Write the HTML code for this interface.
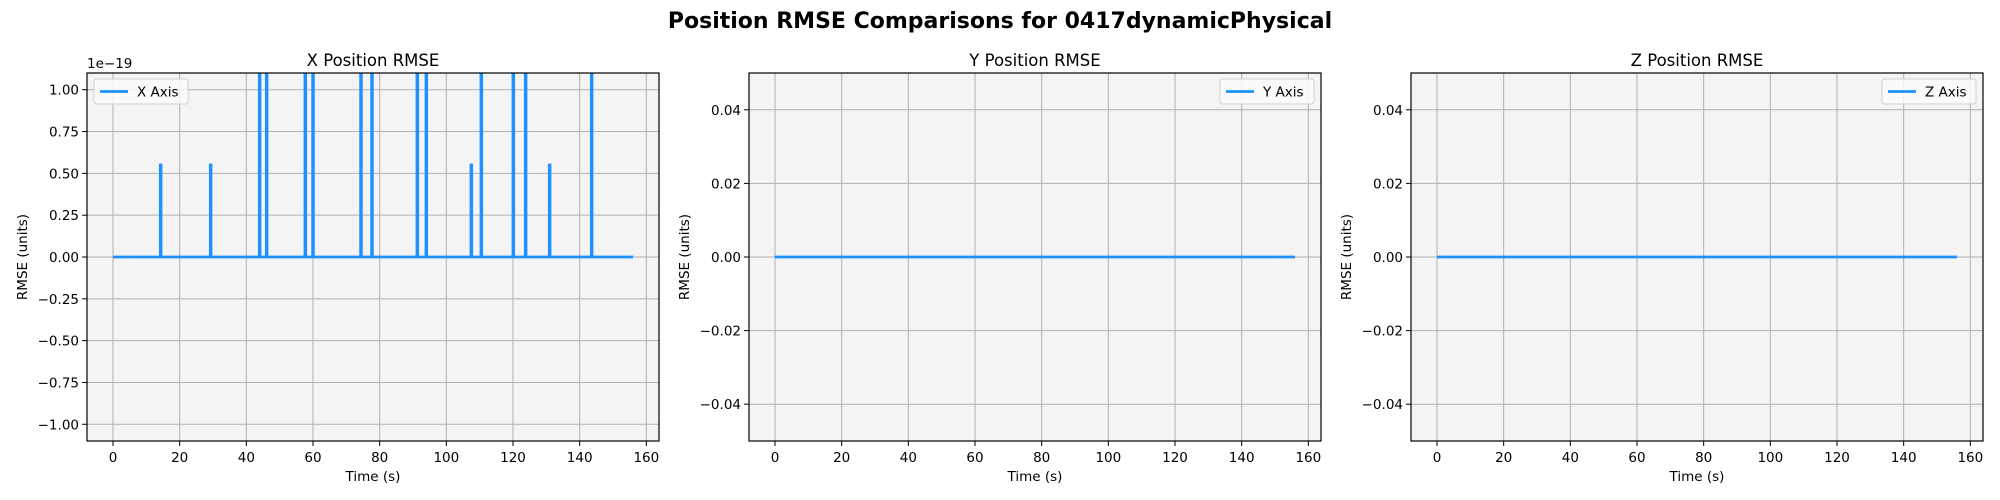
<!DOCTYPE html>
<html><head><meta charset="utf-8"><style>
body{margin:0;background:#fff;}
svg{display:block;font-family:"DejaVu Sans","Liberation Sans",sans-serif;}
</style></head><body>
<svg id="fig" width="2000" height="500" viewBox="0 0 2000 500">
<text x="1000" y="28" text-anchor="middle" font-size="22" font-weight="bold">Position RMSE Comparisons for 0417dynamicPhysical</text>
</svg>
<script>
// X axis series (values in units of 1e-19)
const xTimes = [0, 14.2, 14.2, 14.4, 14.4, 29.2, 29.2, 29.4, 29.4, 43.9, 43.9, 44.1, 44.1, 46.0, 46.0, 46.2, 46.2, 57.6, 57.6, 57.8, 57.8, 59.9, 59.9, 60.1, 60.1, 74.3, 74.3, 74.5, 74.5, 77.6, 77.6, 77.8, 77.8, 91.2, 91.2, 91.4, 91.4, 93.9, 93.9, 94.1, 94.1, 107.4, 107.4, 107.6, 107.6, 110.4, 110.4, 110.6, 110.6, 120.0, 120.0, 120.2, 120.2, 123.7, 123.7, 123.9, 123.9, 130.9, 130.9, 131.1, 131.1, 143.5, 143.5, 143.7, 143.7, 156];
const xValues = [0, 0, 0.55, 0.55, 0, 0, 0.55, 0.55, 0, 0, 2, 2, 0, 0, 2, 2, 0, 0, 2, 2, 0, 0, 2, 2, 0, 0, 2, 2, 0, 0, 2, 2, 0, 0, 2, 2, 0, 0, 2, 2, 0, 0, 0.55, 0.55, 0, 0, 2, 2, 0, 0, 2, 2, 0, 0, 2, 2, 0, 0, 0.55, 0.55, 0, 0, 2, 2, 0, 0];
const yTimes = [0, 156];
const yValues = [0, 0];
const zTimes = [0, 156];
const zValues = [0, 0];
const xTickLabels = [0, 20, 40, 60, 80, 100, 120, 140, 160];
const yTicksX = [-1.00, -0.75, -0.50, -0.25, 0.00, 0.25, 0.50, 0.75, 1.00];
const yTicksYZ = [-0.04, -0.02, 0.00, 0.02, 0.04];

const NS = "http://www.w3.org/2000/svg";
const fig = document.getElementById('fig');
function mk(tag, attrs, parent){const e=document.createElementNS(NS,tag);for(const k in attrs)e.setAttribute(k,attrs[k]);(parent||fig).appendChild(e);return e;}

const panels = [
 {left:87, title:"X Position RMSE", label:"X Axis", t:xTimes, v:xValues, ymin:-1.1, ymax:1.1, ticks:yTicksX, dec:2, legendLeft:true, offset:"1e\u221219", key:"x"},
 {left:749, title:"Y Position RMSE", label:"Y Axis", t:yTimes, v:yValues, ymin:-0.05, ymax:0.05, ticks:yTicksYZ, dec:2, legendLeft:false, key:"y"},
 {left:1411, title:"Z Position RMSE", label:"Z Axis", t:zTimes, v:zValues, ymin:-0.05, ymax:0.05, ticks:yTicksYZ, dec:2, legendLeft:false, key:"z"}
];
const TOP=73, BOT=441, W=572, XMIN=-7.8, XMAX=163.8;

panels.forEach((p,i)=>{
  const L=p.left, R=L+W;
  const sx=t=>L+(t-XMIN)/(XMAX-XMIN)*W;
  const sy=v=>BOT-(v-p.ymin)/(p.ymax-p.ymin)*(BOT-TOP);
  const g=mk('g',{});
  
  
  const bg=mk('rect',{x:L,y:TOP,width:W,height:BOT-TOP,fill:'#f4f4f4'},g);
  
  
  const cid='clip'+i;
  const cp=mk('clipPath',{id:cid},g); mk('rect',{x:L,y:TOP,width:W,height:BOT-TOP},cp);
  // grid
  xTickLabels.forEach(t=>{
    const x=sx(t);
    const gl=mk('line',{x1:x,x2:x,y1:TOP,y2:BOT,stroke:'#b0b0b0','stroke-width':1},g);
    
    
    mk('line',{x1:x,x2:x,y1:BOT,y2:BOT+5,stroke:'#000','stroke-width':1},g);
    const tx=mk('text',{x:x,y:BOT+21,'text-anchor':'middle','font-size':13.5},g);
    tx.textContent=t;
    
    
  });
  p.ticks.forEach(v=>{
    const y=sy(v);
    const gl=mk('line',{x1:L,x2:R,y1:y,y2:y,stroke:'#b0b0b0','stroke-width':1},g);
    
    
    mk('line',{x1:L-5,x2:L,y1:y,y2:y,stroke:'#000','stroke-width':1},g);
    const tx=mk('text',{x:L-8,y:y+5,'text-anchor':'end','font-size':13.5},g);
    tx.textContent=(v<0?'\u2212':'')+Math.abs(v).toFixed(p.dec);
    
    
  });
  // series
  const d=p.t.map((t,j)=>(j?'L':'M')+sx(t).toFixed(2)+' '+sy(p.v[j]).toFixed(2)).join(' ');
  const ln=mk('path',{d:d,fill:'none',stroke:'#1e90ff','stroke-width':2.8,'clip-path':'url(#'+cid+')'},g);
  
  
  const fr=mk('rect',{x:L,y:TOP,width:W,height:BOT-TOP,fill:'none',stroke:'#000','stroke-width':1.2},g);
  
  
  // titles
  const tt=mk('text',{x:L+W/2,y:TOP-7,'text-anchor':'middle','font-size':16.5},g);
  tt.textContent=p.title;
  
  
  const xl=mk('text',{x:L+W/2,y:BOT+40,'text-anchor':'middle','font-size':13.5},g);
  xl.textContent='Time (s)';
  
  
  const yx=L-60, yy=(TOP+BOT)/2;
  const yl=mk('text',{x:yx,y:yy,'text-anchor':'middle','font-size':13.5,transform:'rotate(-90 '+yx+' '+yy+')'},g);
  yl.textContent='RMSE (units)';
  
  
  if(p.offset){
    const ot=mk('text',{x:L,y:TOP-5,'font-size':13.5},g);
    ot.textContent=p.offset;
    
    
  }
  // legend
  const lw=94, lh=25;
  const lx=p.legendLeft?L+7:R-7-lw, ly=TOP+6;
  const lg=mk('g',{},g);
  
  
  mk('rect',{x:lx,y:ly,width:lw,height:lh,rx:3,fill:'#fafafa','fill-opacity':0.85,stroke:'#d0d0d0','stroke-width':1},lg);
  mk('line',{x1:lx+6,x2:lx+34,y1:ly+lh/2,y2:ly+lh/2,stroke:'#1e90ff','stroke-width':2.8},lg);
  const lt=mk('text',{x:lx+43,y:ly+lh/2+5,'font-size':13.5},lg);
  lt.textContent=p.label;
  
  
});
</script>
</body></html>
